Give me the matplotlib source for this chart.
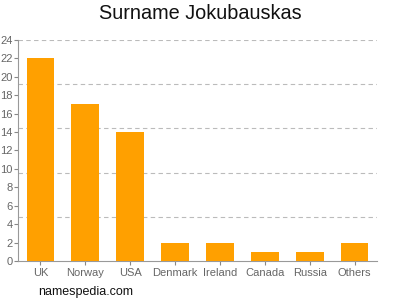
import numpy as np
import matplotlib
matplotlib.use("Agg")
import matplotlib.pyplot as plt

countries = ["UK", "Norway", "USA", "Denmark", "Ireland", "Canada", "Russia", "Others"]
counts = [22, 17, 14, 2, 2, 1, 1, 2]
yticks = list(range(0, 25, 2))
grid_levels = [4.8, 9.6, 14.4, 19.2, 24]

plt.rcParams["font.family"] = ["Liberation Sans", "DejaVu Sans"]

fig = plt.figure(figsize=(4, 3), dpi=100)
ax = fig.add_axes([0.045, 0.13, 0.8975, 0.7367])

x = np.arange(len(countries))
ax.bar(x, counts, width=0.62, color="#ffa000", zorder=3)
for g in grid_levels:
    ax.axhline(g, color="#bbbbbb", lw=0.8, ls=(0, (4, 3)), zorder=1)

ax.set_xlim(-0.5, len(countries) - 0.5)
ax.set_ylim(0, 24)
ax.set_yticks(yticks)
ax.set_xticks(x)
ax.set_xticklabels(countries)
ax.tick_params(axis="both", colors="#888888", labelcolor="#666666", labelsize=8, length=3, width=0.8)
ax.tick_params(axis="x", pad=2)
ax.tick_params(axis="y", pad=1)
for s in ["top", "right"]:
    ax.spines[s].set_visible(False)
for s in ["left", "bottom"]:
    ax.spines[s].set_color("#999999")
    ax.spines[s].set_linewidth(0.8)

fig.text(0.5, 0.955, "Surname Jokubauskas", ha="center", va="center", fontsize=14.3, color="#111111")
fig.text(0.095, 0.027, "namespedia.com", ha="left", va="center", fontsize=9, color="#111111")

fig.savefig("out.png", dpi=100)
